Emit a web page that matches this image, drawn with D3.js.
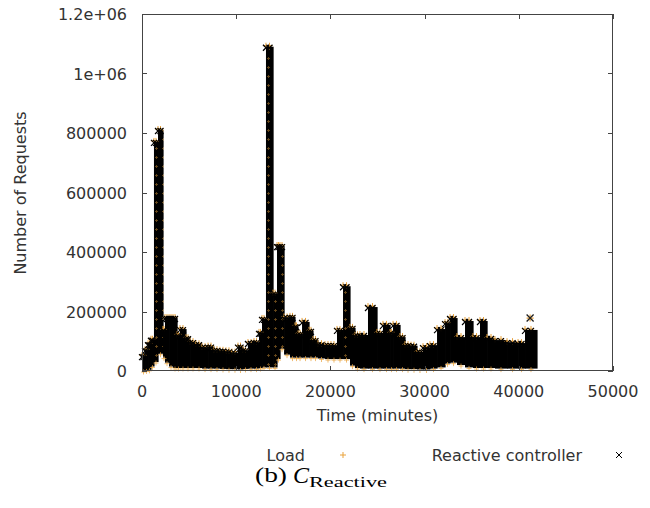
<!DOCTYPE html>
<html><head><meta charset="utf-8">
<script src="https://cdn.jsdelivr.net/npm/d3@7"></script>
<style>body{margin:0;background:#fff}svg{display:block}</style></head>
<body><svg id="c" width="650" height="508"></svg>
<script>
// Envelope of both series (Load and Reactive controller), per time bin (minutes)
const binStart = [0,320,640,950,1270,1700,2230,2440,2870,3290,3720,4030,4670,5100,5730,6370,7010,7640,8280,8920,9550,10190,10720,11250,11890,12420,12740,13160,13910,14330,14650,15080,15710,16240,16560,16990,17730,18150,18680,19430,20060,20700,21340,22080,22610,23140,23990,24950,25580,26330,26650,27390,27920,28560,29190,29830,30570,31320,32170,32700,33440,34290,35140,35880,36630,37470,38750,39920,40660];
const binEnd = 41930;
const upper = [50000,70000,90000,105000,770000,810000,138000,178000,178000,178000,120000,141000,110000,97000,90000,80000,82000,70000,68000,66000,62000,82000,70000,94000,97000,128000,175000,1090000,260000,420000,420000,180000,182000,150000,125000,165000,135000,104000,90000,87000,87000,138000,285000,145000,120000,121000,215000,128000,155000,128000,155000,114000,87000,85000,64000,80000,87000,141000,161000,178000,114000,168000,114000,168000,111000,104000,97000,94000,138000];
const lower = [0,2000,4000,15000,30000,58000,45000,28000,15000,10000,10000,10000,10000,10000,10000,8000,8000,8000,7000,6000,6000,5000,7000,8000,8000,10000,12000,12000,12000,40000,75000,55000,45000,45000,45000,45000,45000,45000,42000,40000,40000,40000,40000,18000,10000,8000,8000,8000,8000,8000,8000,8000,6000,6000,5000,5000,8000,12000,25000,28000,20000,12000,10000,10000,10000,8000,8000,8000,8000];
const outlierTime = [41200];
const outlierValue = [178000];
const xTicks = [0,10000,20000,30000,40000,50000];
const yTicks = [0,200000,400000,600000,800000,1000000,1200000];
const yTickLabels = ["0","200000","400000","600000","800000","1e+06","1.2e+06"];
const seriesNames = ["Load","Reactive controller"];

const svg = d3.select("#c");
const L=142,R=613,T=14,B=371;
const x = d3.scaleLinear().domain([0,50000]).range([L,R]);
const y = d3.scaleLinear().domain([0,1200000]).range([B,T]);
const orange = "#e9a23b", font = "DejaVu Sans, sans-serif", txt="#333";

const defs = svg.append("defs");
const pat = defs.append("pattern").attr("id","spk").attr("patternUnits","userSpaceOnUse")
  .attr("width",7).attr("height",9);
pat.append("rect").attr("width",7).attr("height",9).attr("fill","#000");
pat.append("path").attr("d","M1,4.5h3M2.5,3v3").attr("stroke",orange).attr("stroke-width",0.9).attr("opacity",0.45);

const bins = binStart.map((t,i)=>({t0:t,t1:i<binStart.length-1?binStart[i+1]:binEnd,hi:upper[i],lo:lower[i]}));

const g = svg.append("g");
g.selectAll("rect.b").data(bins).join("rect").attr("class","b")
  .attr("x",d=>x(d.t0)).attr("width",d=>x(d.t1)-x(d.t0)+0.6)
  .attr("y",d=>y(d.hi)).attr("height",d=>y(d.lo)-y(d.hi))
  .attr("fill",d=>d.hi>250000?"url(#spk)":"#000");

const plus = (cx,cy,s)=>`M${cx-s},${cy}h${2*s}M${cx},${cy-s}v${2*s}`;
const cross = (cx,cy,s)=>`M${cx-s},${cy-s}l${2*s},${2*s}M${cx-s},${cy+s}l${2*s},${-2*s}`;

// markers on envelope edges
const upPts=[], loPts=[];
bins.forEach(d=>{
  [d.t0,(d.t0+d.t1)/2].forEach(t=>upPts.push({t,v:d.hi}));
  loPts.push({t:(d.t0+d.t1)/2,v:d.lo});
});
g.selectAll("path.lp").data(upPts).join("path").attr("class","lp")
  .attr("d",d=>plus(x(d.t),y(d.v)-1,3)).attr("stroke",orange).attr("stroke-width",1).attr("fill","none");
g.selectAll("path.rc").data(upPts).join("path").attr("class","rc")
  .attr("d",d=>cross(x(d.t),y(d.v)+1,3)).attr("stroke","#000").attr("stroke-width",1.2).attr("fill","none");
g.selectAll("path.lb").data(loPts).join("path").attr("class","lb")
  .attr("d",d=>plus(x(d.t),y(d.v)+1,2.5)).attr("stroke",orange).attr("stroke-width",0.9).attr("opacity",0.8).attr("fill","none");
// outlier
outlierTime.forEach((t,i)=>{
  g.append("path").attr("d",plus(x(t),y(outlierValue[i]),3.5)).attr("stroke",orange).attr("stroke-width",1.2);
  g.append("path").attr("d",cross(x(t),y(outlierValue[i]),3.5)).attr("stroke","#222").attr("stroke-width",1.3);
});

// frame & ticks
const ax = svg.append("g").attr("stroke","#444").attr("stroke-width",1).attr("fill","none");
ax.append("rect").attr("x",L+0.5).attr("y",T+0.5).attr("width",R-L-1).attr("height",B-T-1);
xTicks.forEach(t=>{const px=Math.round(x(t))+0.5;
  ax.append("path").attr("d",`M${px},${B}v-5M${px},${T}v5`);});
yTicks.forEach(v=>{const py=Math.round(y(v))+0.5;
  ax.append("path").attr("d",`M${L},${py}h5M${R},${py}h-5`);});

const lab = svg.append("g").attr("font-family",font).attr("font-size",16).attr("fill",txt);
xTicks.forEach(t=>lab.append("text").attr("x",x(t)).attr("y",397).attr("text-anchor","middle").text(d3.format("d")(t)));
yTicks.forEach((v,i)=>lab.append("text").attr("x",127).attr("y",y(v)+6).attr("text-anchor","end").text(yTickLabels[i]));
lab.append("text").attr("x",(L+R)/2).attr("y",421).attr("text-anchor","middle").text("Time (minutes)");
lab.append("text").attr("transform","translate(26,193) rotate(-90)").attr("text-anchor","middle").text("Number of Requests");

// legend
lab.append("text").attr("x",305).attr("y",461).attr("text-anchor","end").text(seriesNames[0]);
lab.append("text").attr("x",582).attr("y",461).attr("text-anchor","end").text(seriesNames[1]);
svg.append("path").attr("d",plus(343,455,3)).attr("stroke",orange).attr("stroke-width",1);
svg.append("path").attr("d",cross(619,455,3)).attr("stroke","#000").attr("stroke-width",1);

// caption
const cap = svg.append("g").attr("font-family","Liberation Serif, serif").attr("fill","#000");
cap.append("text").attr("x",255).attr("y",482).attr("font-size",20).attr("textLength",32).attr("lengthAdjust","spacingAndGlyphs").text("(b)");
cap.append("text").attr("x",293).attr("y",483).attr("font-size",24).attr("font-style","italic").text("C");
cap.append("text").attr("x",309).attr("y",487).attr("font-size",14).attr("textLength",78).attr("lengthAdjust","spacingAndGlyphs").text("Reactive");
</script></body></html>
